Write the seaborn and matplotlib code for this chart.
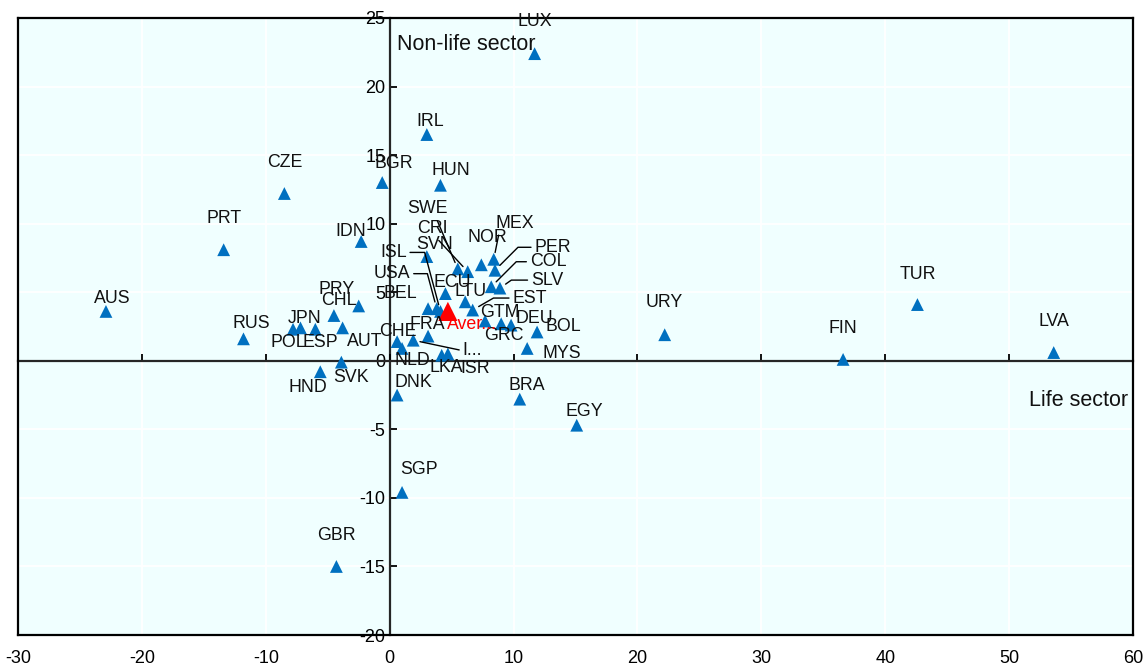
import matplotlib
matplotlib.use("Agg")
import matplotlib.pyplot as plt
import seaborn as sns
import pandas as pd

# ---------------- data ----------------
countries = ["LUX", "IRL", "BGR", "HUN", "CZE", "PRT", "IDN", "AUS", "RUS", "JPN",
             "POL", "ESP", "CHL", "AUT", "PRY", "SVK", "HND", "CHE", "NLD", "DNK",
             "I...", "FRA", "LKA", "ISR", "SVN", "SWE", "CRI", "NOR", "MEX", "PER",
             "COL", "SLV", "ECU", "LTU", "EST", "BEL", "ISL", "USA", "GTM", "GRC",
             "DEU", "BOL", "MYS", "BRA", "EGY", "SGP", "GBR", "URY", "FIN", "TUR",
             "LVA"]
life = [11.7, 3.0, -0.6, 4.1, -8.5, -13.4, -2.3, -22.9, -11.8, -7.2,
        -7.8, -6.0, -4.5, -3.8, -2.5, -3.9, -5.6, 0.6, 1.0, 0.6,
        1.9, 3.1, 4.2, 4.7, 3.0, 5.5, 6.3, 7.4, 8.4, 8.5,
        8.2, 8.9, 4.5, 6.1, 6.7, 3.1, 4.1, 3.8, 7.7, 9.0,
        9.8, 11.9, 11.1, 10.5, 15.1, 1.0, -4.3, 22.2, 36.6, 42.6,
        53.6]
nonlife = [22.4, 16.5, 13.0, 12.8, 12.2, 8.1, 8.7, 3.6, 1.6, 2.4,
           2.3, 2.3, 3.3, 2.4, 4.0, -0.1, -0.8, 1.4, 0.9, -2.5,
           1.5, 1.8, 0.4, 0.5, 7.6, 6.7, 6.5, 7.0, 7.4, 6.6,
           5.4, 5.3, 4.9, 4.3, 3.7, 3.8, 3.6, 3.8, 2.9, 2.7,
           2.6, 2.1, 0.9, -2.8, -4.7, -9.6, -15.0, 1.9, 0.1, 4.1,
           0.6]
avg_label = "Aver..."
avg_life = [4.7]
avg_nonlife = [3.6]

x_ticks = [-30, -20, -10, 0, 10, 20, 30, 40, 50, 60]
y_ticks = [-20, -15, -10, -5, 0, 5, 10, 15, 20, 25]
x_title = "Life sector"
y_title = "Non-life sector"

# ---------------- label placement (pixels) ----------------
label_offsets = {
    "LUX": (0, 32), "IRL": (3, 13), "BGR": (12, 19), "HUN": (10, 15), "CZE": (0, 31),
    "PRT": (0, 31), "IDN": (-10, 10), "AUS": (6, 13), "RUS": (8, 15), "JPN": (4, 9),
    "POL": (-5, -13), "ESP": (5, -13), "CHL": (5, 15), "AUT": (22, -14), "PRY": (-22, 16),
    "SVK": (10, -15), "HND": (-12, -16), "CHE": (1, 10), "NLD": (10, -12), "DNK": (16, 13),
    "I...": (59, -10), "FRA": (-1, 12), "LKA": (5, -12), "ISR": (27, -15), "SVN": (8, 12),
    "SWE": (-30, 60), "CRI": (-35, 43), "NOR": (6, 27), "MEX": (21, 36), "PER": (58, 23),
    "COL": (57, 25), "SLV": (47, 8), "ECU": (7, 11), "LTU": (5, 10), "EST": (57, 12),
    "BEL": (-28, 15), "ISL": (-47, 59), "USA": (-45, 35), "GTM": (15, 9), "GRC": (3, -12),
    "DEU": (23, 7), "BOL": (26, 5), "MYS": (35, -5), "BRA": (7, 14), "EGY": (8, 14),
    "SGP": (17, 23), "GBR": (0, 31), "URY": (0, 32), "FIN": (0, 31), "TUR": (0, 30),
    "LVA": (0, 31),
}
# leader lines: (relpos on label, connection style)
leaders = {
    "SWE": ((0.7, 0.0), "arc3"),
    "CRI": ((0.6, 0.0), "arc3"),
    "MEX": ((0.1, 0.0), "arc3"),
    "PER": ((-0.1, 0.5), "angle,angleA=0,angleB=45,rad=0"),
    "COL": ((-0.1, 0.5), "angle,angleA=0,angleB=45,rad=0"),
    "SLV": ((-0.1, 0.5), "angle,angleA=0,angleB=35,rad=0"),
    "EST": ((-0.1, 0.5), "angle,angleA=0,angleB=30,rad=0"),
    "ISL": ((1.1, 0.5), "angle,angleA=0,angleB=-75,rad=0"),
    "USA": ((1.1, 0.5), "angle,angleA=0,angleB=-75,rad=0"),
    "I...": ((-0.1, 0.5), "arc3"),
}

BLUE = "#0070C0"
BG = "#F0FFFF"

sns.set_theme(style="white")
plt.rcParams["font.family"] = ["Liberation Sans", "DejaVu Sans"]
plt.rcParams["axes.unicode_minus"] = False

fig = plt.figure(figsize=(11.47, 6.70), dpi=100)
ax = fig.add_axes([18 / 1147, 35 / 670, 1115 / 1147, 617 / 670])
ax.set_facecolor(BG)

df = pd.DataFrame({"country": countries, "life": life, "nonlife": nonlife})
sns.scatterplot(data=df, x="life", y="nonlife", marker="^", s=85, color=BLUE,
                edgecolor="none", linewidth=0, ax=ax, zorder=3)
avg_df = pd.DataFrame({"life": avg_life, "nonlife": avg_nonlife})
sns.scatterplot(data=avg_df, x="life", y="nonlife", marker="^", s=190, color="#FF0000",
                edgecolor="none", linewidth=0, ax=ax, zorder=4)

ax.set_xlim(x_ticks[0], x_ticks[-1])
ax.set_ylim(y_ticks[0], y_ticks[-1])
ax.set_xticks(x_ticks)
ax.set_xticklabels([str(t) for t in x_ticks])
ax.set_yticks(y_ticks)
ax.tick_params(axis="x", length=0, pad=11, labelsize=13, colors="black")
ax.tick_params(axis="y", length=0, labelleft=False)
ax.grid(True, color="white", lw=1.3)
ax.set_xlabel("")
ax.set_ylabel("")
for sp in ax.spines.values():
    sp.set_visible(True)
    sp.set_color("black")
    sp.set_linewidth(1.6)

# central axes through zero
xloc = (0 - x_ticks[0]) / (x_ticks[-1] - x_ticks[0])
yloc = (0 - y_ticks[0]) / (y_ticks[-1] - y_ticks[0])
secy = ax.secondary_yaxis(xloc)
secy.set_yticks(y_ticks)
secy.set_yticklabels([str(t) for t in y_ticks])
secy.tick_params(direction="in", length=5, width=1.3, labelsize=13, pad=3, colors="black")
secy.spines["left"].set_linewidth(1.6)
secy.set_zorder(2)

secx = ax.secondary_xaxis(yloc)
secx.set_xticks(x_ticks)
secx.tick_params(direction="in", length=5, width=1.3, labelbottom=False, colors="black")
secx.spines["bottom"].set_linewidth(1.6)
secx.set_zorder(2)

# labels
for name, xv, yv in zip(countries, life, nonlife):
    dx, dy = label_offsets[name]
    kw = {}
    if name in leaders:
        rp, cs = leaders[name]
        kw["arrowprops"] = dict(arrowstyle="-", color="black", lw=1.0, relpos=rp,
                                connectionstyle=cs, shrinkA=0, shrinkB=5)
    ax.annotate(name, (xv, yv), xytext=(dx, dy), textcoords="offset pixels",
                ha="center", va="center", fontsize=12.8, color="#111111",
                zorder=5, **kw)

ax.annotate(avg_label, (avg_life[0], avg_nonlife[0]), xytext=(24, -13),
            textcoords="offset pixels", ha="center", va="center",
            fontsize=12.8, color="#FF0000", zorder=5)

ax.text(0.6, 23.1, y_title, ha="left", va="center", fontsize=15.5, color="#111111", zorder=5)
ax.text(59.6, -2.9, x_title, ha="right", va="center", fontsize=15.5, color="#111111", zorder=5)

fig.savefig("out.png", dpi=100, facecolor="white")
